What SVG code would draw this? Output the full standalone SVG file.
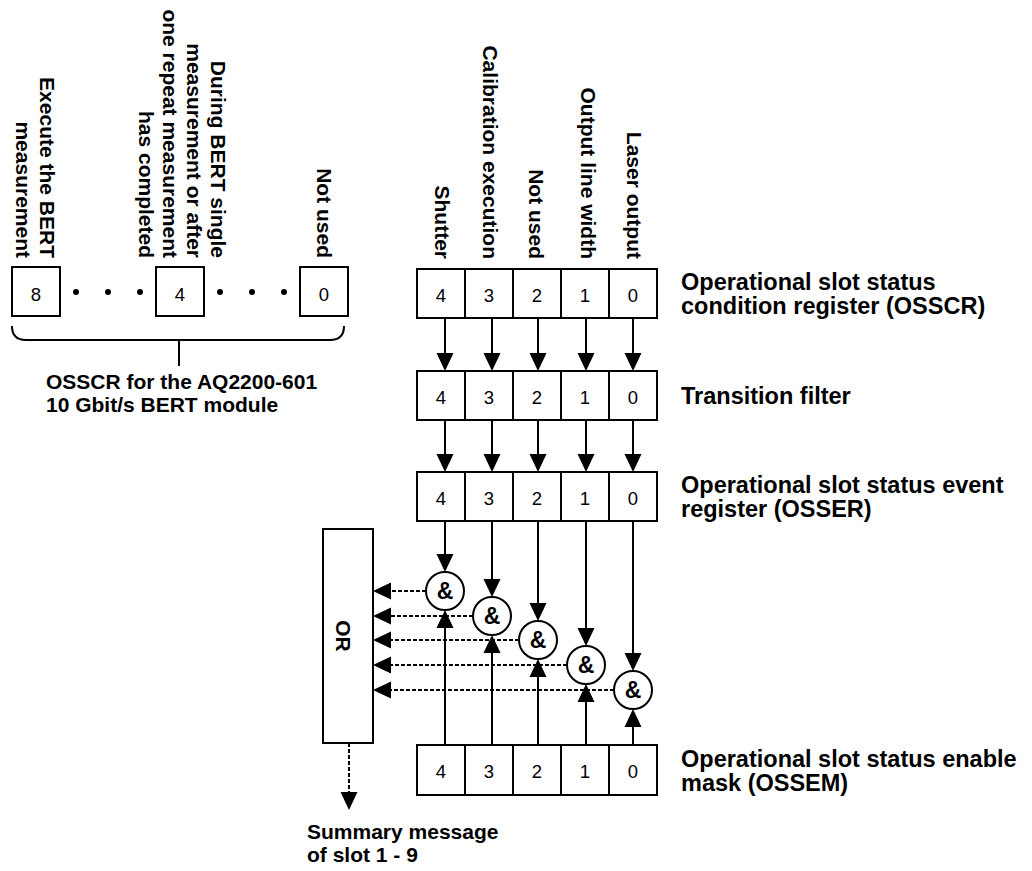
<svg xmlns="http://www.w3.org/2000/svg" width="1032" height="871" viewBox="0 0 1032 871">
<style>
.box{fill:#fff;stroke:#000;stroke-width:2}
.num{font-family:"Liberation Sans",Arial,sans-serif;font-size:18.5px;fill:#000;text-anchor:middle}
.lbl{font-family:"Liberation Sans",Arial,sans-serif;font-size:21px;font-weight:bold;fill:#000}
.rl{font-family:"Liberation Sans",Arial,sans-serif;font-size:23.5px;font-weight:bold;fill:#000}
.vl{font-family:"Liberation Sans",Arial,sans-serif;font-size:21px;font-weight:bold;fill:#000;text-anchor:end}
.amp{font-family:"Liberation Sans",Arial,sans-serif;font-size:23px;font-weight:bold;fill:#000;text-anchor:middle}
.ln{fill:none;stroke:#000;stroke-width:2}
.dash{fill:none;stroke:#000;stroke-width:2;stroke-dasharray:4 2}
.arr{marker-end:url(#ah)}
.dot{fill:#000}
</style>
<defs>
<marker id="ah" markerUnits="userSpaceOnUse" markerWidth="18" markerHeight="17" refX="16" refY="8.5" orient="auto" overflow="visible">
<path d="M0,0 L18,8.5 L0,17 Z" fill="#000" stroke="none"/>
</marker>
</defs>
<rect width="1032" height="871" fill="#fff"/>

<g id="osscr-module">
<text class="vl" transform="translate(40,258) rotate(90)">Execute the BERT</text>
<text class="vl" transform="translate(16,258) rotate(90)">measurement</text>
<text class="vl" transform="translate(211,258) rotate(90)">During BERT single</text>
<text class="vl" transform="translate(187,258) rotate(90)">measurement or after</text>
<text class="vl" transform="translate(163,258) rotate(90)">one repeat measurement</text>
<text class="vl" transform="translate(139,258) rotate(90)">has completed</text>
<text class="vl" transform="translate(317,258) rotate(90)">Not used</text>
<rect class="box" x="12" y="267" width="48" height="49"/>
<text class="num" x="36" y="300.5">8</text>
<rect class="box" x="156" y="267" width="48" height="49"/>
<text class="num" x="180" y="300.5">4</text>
<rect class="box" x="300" y="267" width="48" height="49"/>
<text class="num" x="324" y="300.5">0</text>
<circle class="dot" cx="76" cy="292" r="3"/>
<circle class="dot" cx="108" cy="292" r="3"/>
<circle class="dot" cx="140" cy="292" r="3"/>
<circle class="dot" cx="220" cy="292" r="3"/>
<circle class="dot" cx="252" cy="292" r="3"/>
<circle class="dot" cx="284" cy="292" r="3"/>
<path class="ln" d="M12,326 Q12,340 26,340 H330 Q344,340 344,326 M179,340 V366" stroke-width="1.5"/>
<text class="lbl" x="46" y="389">OSSCR for the AQ2200-601</text>
<text class="lbl" x="46" y="412">10 Gbit/s BERT module</text>
</g>

<g id="bit-labels">
<text class="vl" transform="translate(435,259) rotate(90)">Shutter</text>
<text class="vl" transform="translate(483,259) rotate(90)">Calibration execution</text>
<text class="vl" transform="translate(529,259) rotate(90)">Not used</text>
<text class="vl" transform="translate(581,259) rotate(90)">Output line width</text>
<text class="vl" transform="translate(627,259) rotate(90)">Laser output</text>
</g>

<g id="osscr">
<rect class="box" x="417" y="269" width="240" height="49"/>
<path class="ln" d="M465,269V318M513,269V318M561,269V318M609,269V318"/>
<text class="num" x="441" y="301.5">4</text>
<text class="num" x="489" y="301.5">3</text>
<text class="num" x="537" y="301.5">2</text>
<text class="num" x="585" y="301.5">1</text>
<text class="num" x="633" y="301.5">0</text>
<text class="rl" x="681" y="290">Operational slot status</text>
<text class="rl" x="681" y="314">condition register (OSSCR)</text>
</g>

<g id="transition-filter">
<rect class="box" x="417" y="371" width="240" height="49"/>
<path class="ln" d="M465,371V420M513,371V420M561,371V420M609,371V420"/>
<text class="num" x="441" y="403.5">4</text>
<text class="num" x="489" y="403.5">3</text>
<text class="num" x="537" y="403.5">2</text>
<text class="num" x="585" y="403.5">1</text>
<text class="num" x="633" y="403.5">0</text>
<text class="rl" x="681" y="404">Transition filter</text>
</g>

<g id="osser">
<rect class="box" x="417" y="472" width="240" height="49"/>
<path class="ln" d="M465,472V521M513,472V521M561,472V521M609,472V521"/>
<text class="num" x="441" y="504.5">4</text>
<text class="num" x="489" y="504.5">3</text>
<text class="num" x="537" y="504.5">2</text>
<text class="num" x="585" y="504.5">1</text>
<text class="num" x="633" y="504.5">0</text>
<text class="rl" x="681" y="493">Operational slot status event</text>
<text class="rl" x="681" y="517">register (OSSER)</text>
</g>

<g id="ossem">
<rect class="box" x="417" y="745" width="240" height="50"/>
<path class="ln" d="M465,745V795M513,745V795M561,745V795M609,745V795"/>
<text class="num" x="441" y="778">4</text>
<text class="num" x="489" y="778">3</text>
<text class="num" x="537" y="778">2</text>
<text class="num" x="585" y="778">1</text>
<text class="num" x="633" y="778">0</text>
<text class="rl" x="681" y="767">Operational slot status enable</text>
<text class="rl" x="681" y="791">mask (OSSEM)</text>
</g>

<g id="or-gate">
<rect class="box" x="323" y="529" width="50" height="214"/>
<text class="lbl" font-size="23" text-anchor="middle" transform="translate(336,636) rotate(90)">OR</text>
</g>

<g id="and-gates">
<circle class="box" cx="445" cy="591" r="19"/>
<circle class="box" cx="492" cy="616" r="19"/>
<circle class="box" cx="538" cy="640" r="19"/>
<circle class="box" cx="586" cy="665" r="19"/>
<circle class="box" cx="633" cy="690" r="19"/>
<text class="amp" x="445" y="599">&amp;</text>
<text class="amp" x="492" y="624">&amp;</text>
<text class="amp" x="538" y="648">&amp;</text>
<text class="amp" x="586" y="673">&amp;</text>
<text class="amp" x="633" y="698">&amp;</text>
</g>

<g id="summary">
<text class="lbl" x="307" y="839">Summary message</text>
<text class="lbl" x="307" y="862">of slot 1 - 9</text>
</g>

<g id="connectors">
<path class="ln arr" d="M445,318V369"/>
<path class="ln arr" d="M492,318V369"/>
<path class="ln arr" d="M538,318V369"/>
<path class="ln arr" d="M586,318V369"/>
<path class="ln arr" d="M633,318V369"/>
<path class="ln arr" d="M445,420V470"/>
<path class="ln arr" d="M492,420V470"/>
<path class="ln arr" d="M538,420V470"/>
<path class="ln arr" d="M586,420V470"/>
<path class="ln arr" d="M633,420V470"/>
<path class="ln arr" d="M445,521V570"/>
<path class="ln arr" d="M492,521V595"/>
<path class="ln arr" d="M538,521V619"/>
<path class="ln arr" d="M586,521V644"/>
<path class="ln arr" d="M633,521V669"/>
<path class="ln arr" d="M445,745V612"/>
<path class="ln arr" d="M492,745V637"/>
<path class="ln arr" d="M538,745V661"/>
<path class="ln arr" d="M586,745V686"/>
<path class="ln arr" d="M633,745V711"/>
<path class="dash arr" d="M426,591H375"/>
<path class="dash arr" d="M473,616H375"/>
<path class="dash arr" d="M519,640H375"/>
<path class="dash arr" d="M567,665H375"/>
<path class="dash arr" d="M614,690H375"/>
<path class="dash arr" d="M349,743V808"/>
</g>
</svg>
